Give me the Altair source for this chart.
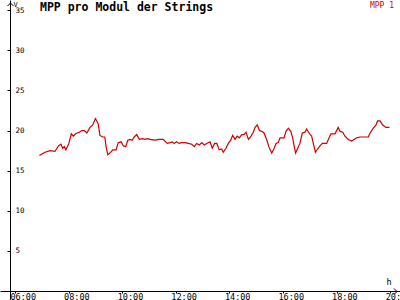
import altair as alt
import pandas as pd

hours = [6.91, 7.12, 7.31, 7.49, 7.62, 7.71, 7.78, 7.84, 7.90, 8.01, 8.10, 8.18, 8.26, 8.40, 8.49,
         8.59, 8.68, 8.80, 8.90, 9.00, 9.10, 9.17, 9.27, 9.35, 9.40, 9.46, 9.54, 9.65, 9.77, 9.85,
         9.96, 10.04, 10.13, 10.21, 10.29, 10.37, 10.45, 10.54, 10.64, 10.76, 10.85, 10.94, 11.04,
         11.22, 11.38, 11.53, 11.68, 11.78, 11.87, 11.94, 12.03, 12.12, 12.22, 12.34, 12.47, 12.59,
         12.69, 12.78, 12.88, 12.97, 13.06, 13.15, 13.28, 13.36, 13.45, 13.53, 13.62, 13.71, 13.77,
         13.87, 13.96, 14.05, 14.12, 14.21, 14.29, 14.37, 14.46, 14.54, 14.62, 14.71, 14.79, 14.89,
         14.96, 15.04, 15.12, 15.21, 15.29, 15.39, 15.47, 15.58, 15.66, 15.74, 15.82, 15.89, 16.04,
         16.11, 16.20, 16.29, 16.36, 16.41, 16.47, 16.55, 16.63, 16.72, 16.82, 16.88, 16.97, 17.07,
         17.13, 17.21, 17.29, 17.38, 17.47, 17.63, 17.72, 17.79, 17.94, 18.06, 18.13, 18.23, 18.31,
         18.44, 18.56, 18.65, 18.75, 18.87, 19.18, 19.25, 19.37, 19.47, 19.53, 19.62, 19.72, 19.84,
         19.97]
mpp1 = [16.9, 17.3, 17.5, 17.4, 18.1, 18.3, 17.8, 18.0, 17.6, 18.4, 19.6, 19.3, 19.6, 19.8, 20.0,
        20.0, 19.7, 20.4, 20.7, 21.5, 20.9, 19.4, 19.2, 19.2, 18.0, 17.0, 17.2, 17.6, 17.6, 18.5,
        18.6, 18.1, 18.0, 18.8, 18.9, 18.8, 19.2, 19.5, 18.9, 19.0, 18.9, 19.0, 18.9,
        18.8, 18.9, 18.9, 18.4, 18.5, 18.6, 18.4, 18.6, 18.4, 18.5, 18.5, 18.4, 18.3,
        18.0, 18.4, 18.2, 18.5, 18.2, 18.4, 18.6, 17.8, 18.4, 18.4, 17.6, 17.7, 17.3,
        17.8, 18.4, 18.8, 19.4, 18.9, 19.3, 19.1, 19.5, 19.5, 19.8, 18.9, 19.2, 19.8,
        20.4, 20.7, 20.0, 19.9, 19.7, 18.9, 18.0, 17.2, 17.7, 18.4, 18.5, 19.1, 19.1,
        19.9, 20.3, 19.9, 19.1, 18.2, 17.2, 17.8, 18.4, 19.7, 19.8, 20.2, 19.7, 19.3,
        18.4, 17.3, 17.7, 18.1, 18.4, 18.4, 19.1, 19.6, 19.6, 20.4, 19.9, 19.8, 19.3,
        18.9, 18.7, 18.9, 19.1, 19.2, 19.2, 19.7, 20.3, 20.7, 21.2, 21.2, 20.7, 20.4,
        20.4]

x_ticks = [6, 8, 10, 12, 14, 16, 18, 20]
y_ticks = [5, 10, 15, 20, 25, 30, 35]
title_text = ["MPP pro Modul der Strings"]
legend_text = ["MPP 1"]

MONO = "DejaVu Sans Mono"
RED = "#cc0000"

df = pd.DataFrame({"h": hours, "v": mpp1})

xscale = alt.Scale(domain=[5.4403, 20.3657], nice=False, zero=False)
yscale = alt.Scale(domain=[-1.12, 36.28], nice=False, zero=False)

xaxis = alt.Axis(
    orient="bottom", offset=-9, values=x_ticks, grid=False,
    labelExpr="(datum.value < 10 ? '0' : '') + datum.value + ':00'",
    domainColor="black", domainWidth=1, tickColor="black", tickSize=2,
    labelColor="black", labelFont=MONO, labelFontSize=8.5, labelAlign="left",
    labelOffset=-5, labelBaseline="top", labelPadding=-1,
    labelOverlap=False, labelFlush=False, labelBound=False,
    title="h", titleX=386, titleY=-7, titleAngle=0, titleAlign="left",
    titleBaseline="alphabetic", titleFont=MONO, titleFontSize=8.5,
    titleFontWeight="normal", titleColor="black",
)
yaxis = alt.Axis(
    orient="left", offset=-10, values=y_ticks, grid=False,
    domainColor="black", domainWidth=1, tickColor="black", tickSize=3,
    labelColor="black", labelFont=MONO, labelFontSize=7.5, labelAlign="left",
    labelBaseline="middle", labelPadding=-8,
    labelOverlap=False, labelFlush=False, labelBound=False,
    title="V", titleX=3, titleY=6, titleAngle=0, titleAlign="left",
    titleBaseline="alphabetic", titleFont=MONO, titleFontSize=7,
    titleFontWeight="normal", titleColor="black",
)

line = alt.Chart(df).mark_line(color=RED, strokeWidth=1.2, clip=True).encode(
    x=alt.X("h:Q", scale=xscale, axis=xaxis),
    y=alt.Y("v:Q", scale=yscale, axis=yaxis),
)

title = alt.Chart(pd.DataFrame({"t": title_text})).mark_text(
    align="left", baseline="alphabetic", font=MONO, fontWeight="bold",
    fontSize=11.5, color="black"
).encode(x=alt.value(40), y=alt.value(11), text="t:N")

legend = alt.Chart(pd.DataFrame({"t": legend_text})).mark_text(
    align="right", baseline="alphabetic", font=MONO, fontSize=8,
    color=RED
).encode(x=alt.value(394), y=alt.value(7.5), text="t:N")

# axis arrowheads
arrow_up = alt.Chart(pd.DataFrame({"a": [0]})).mark_point(
    shape="M -1 1 L 0 0 L 1 1", filled=False, stroke="black", strokeWidth=1,
    size=36, opacity=1
).encode(x=alt.value(10.5), y=alt.value(3))
arrow_right = alt.Chart(pd.DataFrame({"a": [0]})).mark_point(
    shape="M -1 -1 L 0 0 L -1 1", filled=False, stroke="black", strokeWidth=1,
    size=36, opacity=1
).encode(x=alt.value(397), y=alt.value(291.5))

chart = alt.layer(line, title, legend, arrow_up, arrow_right).properties(
    width=400, height=300, autosize=alt.AutoSizeParams(type="none"),
    padding=0, background="white"
).configure_view(stroke=None)

chart.save("out.html", embed_options={"renderer": "svg", "actions": False})
